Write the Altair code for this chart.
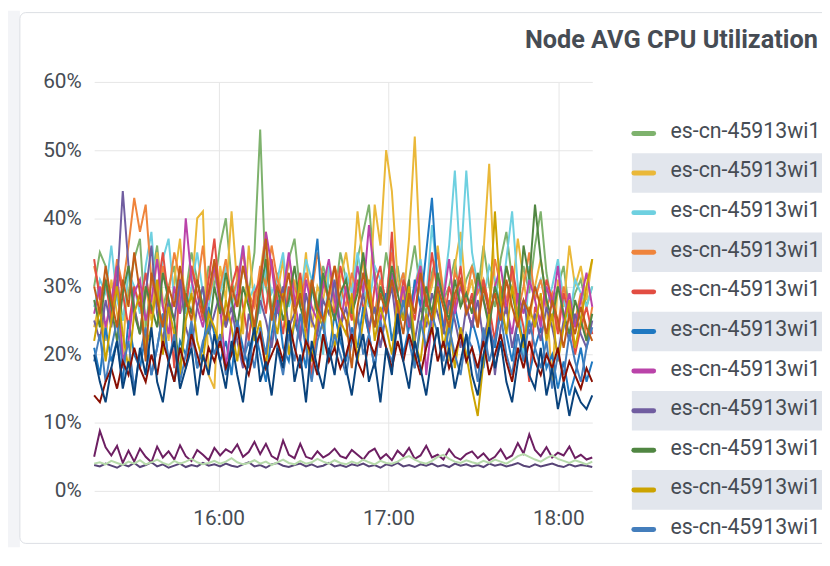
import altair as alt
import pandas as pd

TITLE = "Node AVG CPU Utilization"
LEGEND_LABEL = "es-cn-45913wi1"
COLORS = ["#7EB26D", "#EAB839", "#6ED0E0", "#EF843C", "#E24D42", "#1F78C1",
          "#BA43A9", "#705DA0", "#508642", "#CCA300", "#447EBC", "#C15C17",
          "#890F02", "#0A437C", "#6D1F62", "#584477", "#B7DBAB"]
SERIES = [f"node-{i + 1:02d}" for i in range(len(COLORS))]
LEGEND_ROWS = 11
Y_TICKS = [0, 10, 20, 30, 40, 50, 60]

s01 = [30, 35, 33, 27, 31, 25, 29, 34, 37, 24, 31, 36, 27, 30, 33, 26, 29, 35, 31, 27, 33, 30,
       36, 40, 31, 27, 33, 29, 35, 53, 30, 26, 32, 28, 34, 37, 29, 25, 31, 27, 33, 30, 28, 35,
       31, 26, 34, 38, 42, 32, 28, 35, 30, 33, 27, 31, 36, 29, 26, 32, 35, 28, 30, 34, 27, 31,
       33, 29, 36, 30, 27, 34, 38, 31, 28, 33, 29, 36, 41, 32, 27, 30, 33, 26, 29, 31, 27, 30]
s02 = [24, 28, 22, 31, 26, 20, 33, 27, 23, 30, 25, 35, 28, 22, 31, 37, 26, 29, 40, 41, 17, 15,
       33, 28, 41, 30, 23, 36, 27, 32, 38, 25, 29, 34, 22, 31, 27, 35, 24, 30, 28, 33, 26, 31,
       35, 29, 41, 33, 27, 42, 36, 50, 44, 31, 28, 37, 52, 33, 27, 30, 36, 29, 19, 33, 38, 28,
       31, 24, 35, 48, 30, 26, 33, 29, 37, 31, 25, 30, 34, 28, 16, 31, 27, 36, 30, 33, 28, 34]
s03 = [27, 31, 29, 36, 28, 25, 32, 30, 26, 33, 38, 27, 34, 37, 28, 31, 26, 30, 35, 29, 27, 32,
       29, 33, 27, 31, 36, 28, 30, 26, 33, 29, 31, 35, 27, 30, 28, 34, 31, 26, 20, 33, 30, 27,
       32, 29, 35, 30, 27, 33, 31, 28, 36, 29, 32, 27, 30, 34, 28, 39, 31, 29, 36, 47, 33, 47,
       35, 30, 28, 33, 31, 27, 34, 41, 30, 19, 33, 29, 31, 27, 30, 34, 28, 25, 31, 29, 27, 30]
s04 = [33, 29, 31, 27, 34, 30, 36, 43, 38, 42, 31, 28, 33, 29, 35, 31, 27, 33, 30, 36, 28, 32,
       30, 34, 28, 31, 35, 29, 27, 33, 30, 36, 31, 28, 34, 30, 27, 32, 29, 35, 31, 28, 33, 30,
       27, 32, 29, 34, 30, 26, 31, 28, 35, 29, 32, 27, 30, 33, 28, 31, 35, 29, 26, 32, 30, 28,
       33, 29, 31, 27, 34, 30, 28, 32, 26, 30, 35, 28, 31, 27, 29, 24, 30, 27, 25, 29, 22, 27]
s05 = [34, 28, 31, 25, 33, 29, 24, 30, 27, 32, 26, 29, 35, 28, 18, 31, 27, 33, 29, 25, 31, 37,
       28, 24, 30, 33, 27, 22, 29, 31, 26, 34, 28, 23, 30, 27, 32, 25, 17, 24, 31, 28, 26, 33,
       29, 25, 31, 27, 23, 30, 33, 26, 38, 24, 31, 28, 25, 32, 27, 35, 29, 24, 30, 27, 33, 26,
       29, 24, 31, 27, 22, 30, 26, 33, 28, 24, 16, 27, 25, 31, 28, 23, 29, 26, 20, 24, 27, 23]
s06 = [21, 17, 24, 19, 22, 16, 25, 20, 18, 23, 17, 21, 26, 19, 16, 22, 20, 24, 18, 21, 27, 23,
       19, 22, 17, 25, 21, 18, 24, 20, 16, 23, 28, 21, 19, 25, 22, 18, 30, 37, 24, 20, 26, 22,
       19, 24, 21, 27, 23, 18, 25, 29, 22, 26, 20, 24, 31, 27, 35, 43, 30, 24, 21, 27, 23, 19,
       25, 22, 18, 24, 21, 27, 23, 19, 25, 22, 17, 21, 24, 18, 20, 15, 19, 14, 17, 21, 16, 19]
s07 = [26, 30, 24, 28, 33, 19, 22, 29, 31, 25, 28, 34, 27, 23, 30, 26, 40, 31, 27, 24, 29, 33,
       27, 18, 25, 29, 36, 28, 24, 30, 38, 33, 26, 29, 35, 28, 23, 31, 27, 25, 30, 34, 28, 24,
       30, 27, 33, 29, 39, 31, 25, 28, 32, 26, 30, 24, 29, 33, 17, 25, 31, 28, 34, 26, 30, 27,
       24, 31, 28, 25, 30, 33, 27, 23, 29, 26, 31, 28, 24, 30, 27, 33, 25, 29, 24, 28, 32, 27]
s08 = [25, 22, 28, 24, 30, 44, 33, 27, 23, 29, 36, 26, 22, 28, 25, 31, 24, 21, 27, 30, 23, 26,
       29, 24, 27, 22, 18, 26, 23, 28, 25, 21, 27, 30, 24, 26, 22, 29, 25, 23, 28, 26, 31, 24,
       27, 22, 25, 29, 24, 27, 21, 26, 30, 23, 28, 25, 22, 27, 24, 29, 26, 23, 28, 25, 21, 27,
       24, 28, 22, 26, 17, 24, 27, 21, 25, 28, 23, 26, 22, 27, 24, 20, 25, 22, 26, 23, 21, 25]
s09 = [28, 24, 31, 27, 22, 29, 33, 26, 23, 30, 27, 24, 32, 28, 25, 17, 29, 26, 31, 27, 23, 30,
       26, 32, 28, 24, 30, 27, 23, 29, 34, 26, 30, 25, 28, 33, 27, 24, 30, 26, 32, 28, 25, 29,
       31, 26, 29, 35, 28, 24, 30, 27, 33, 29, 25, 31, 18, 24, 30, 26, 32, 28, 25, 31, 27, 29,
       26, 32, 28, 24, 30, 27, 33, 29, 25, 36, 31, 42, 34, 28, 25, 30, 26, 23, 28, 25, 22, 26]
s10 = [22, 27, 19, 25, 30, 23, 18, 26, 29, 21, 24, 31, 20, 27, 23, 17, 25, 29, 22, 19, 26, 24,
       21, 28, 24, 19, 26, 30, 22, 25, 18, 27, 23, 29, 20, 25, 31, 22, 19, 26, 24, 28, 21, 25,
       23, 29, 19, 25, 31, 22, 27, 24, 20, 28, 25, 30, 22, 19, 26, 23, 29, 21, 25, 18, 24, 20,
       15, 11, 19, 26, 41, 28, 23, 30, 25, 21, 27, 24, 29, 22, 26, 19, 24, 28, 21, 25, 30, 34]
s11 = [19, 23, 16, 21, 25, 18, 22, 15, 20, 24, 17, 21, 26, 19, 23, 16, 20, 25, 18, 22, 24, 20,
       23, 17, 21, 25, 19, 22, 18, 24, 20, 27, 21, 17, 23, 19, 26, 21, 16, 22, 25, 19, 23, 20,
       17, 22, 26, 20, 23, 18, 25, 21, 19, 24, 28, 22, 18, 25, 21, 26, 23, 19, 24, 20, 17, 23,
       21, 16, 24, 19, 22, 26, 20, 17, 23, 19, 25, 21, 18, 22, 15, 20, 17, 23, 19, 16, 21, 24]
s12 = [30, 26, 33, 28, 24, 31, 27, 35, 29, 19, 32, 28, 24, 30, 27, 33, 28, 25, 31, 26, 29, 34,
       28, 25, 30, 27, 33, 29, 24, 31, 37, 25, 30, 28, 32, 26, 29, 24, 31, 27, 25, 29, 33, 27,
       25, 18, 27, 32, 28, 24, 29, 26, 31, 27, 23, 29, 26, 32, 28, 25, 30, 27, 24, 29, 31, 26,
       28, 24, 30, 26, 29, 25, 31, 27, 24, 28, 26, 30, 27, 23, 28, 25, 21, 26, 23, 27, 24, 22]
s13 = [14, 13, 16, 18, 15, 19, 17, 21, 18, 16, 20, 17, 22, 19, 16, 21, 18, 23, 20, 17, 21, 19,
       22, 18, 20, 24, 19, 17, 21, 23, 18, 20, 22, 19, 25, 21, 18, 22, 20, 17, 23, 19, 21, 18,
       20, 23, 19, 17, 22, 20, 24, 21, 18, 22, 19, 23, 20, 17, 21, 24, 19, 22, 18, 20, 23, 19,
       21, 18, 22, 17, 20, 23, 19, 16, 21, 18, 22, 19, 17, 20, 18, 21, 16, 19, 17, 15, 18, 16]
s14 = [20, 16, 13, 18, 22, 15, 19, 14, 21, 17, 24, 16, 13, 19, 22, 15, 18, 21, 14, 20, 17, 23,
       19, 15, 22, 17, 13, 20, 24, 16, 19, 14, 21, 18, 25, 16, 20, 13, 22, 18, 15, 21, 17, 24,
       18, 14, 20, 23, 16, 19, 13, 21, 17, 26, 19, 15, 22, 18, 14, 20, 24, 17, 21, 15, 19, 23,
       17, 14, 20, 24, 18, 22, 16, 13, 19, 23, 17, 15, 21, 14, 18, 12, 16, 11, 15, 13, 12, 14]
s15 = [5.0, 8.8, 6.4, 5.2, 6.6, 4.1, 5.9, 4.3, 6.2, 5.0, 4.2, 6.5, 4.9, 5.8, 4.6, 6.7, 5.1, 4.4, 6.0, 5.3, 4.5, 6.3,
       5.2, 6.1, 5.6, 6.8, 5.0, 5.7, 7.2, 5.4, 6.9, 5.1, 4.6, 7.4, 5.3, 4.8, 6.9, 5.0, 4.7, 5.8, 4.9, 5.4, 6.2, 5.1,
       4.8, 6.0, 5.3, 4.6, 5.7, 6.2, 4.7, 5.4, 4.5, 5.9, 5.1, 6.3, 4.7, 5.2, 6.6, 4.9, 5.3, 4.6, 6.1, 5.0, 4.6, 5.4,
       5.8, 4.8, 5.5, 4.5, 5.0, 6.1, 4.7, 5.2, 7.0, 5.5, 8.3, 6.0, 5.1, 6.4, 4.9, 5.6, 5.2, 6.5, 4.8, 5.3, 4.6, 4.9]
s16 = [3.8, 3.6, 4.0, 3.7, 3.4, 3.9, 3.6, 4.1, 3.5, 3.8, 4.2, 3.6, 3.9, 3.4, 3.7, 4.0, 3.5, 3.8, 3.6, 4.1, 3.7, 3.9,
       3.6, 4.0, 3.7, 3.5, 3.9, 4.2, 3.6, 3.8, 3.4, 3.9, 4.1, 3.7, 3.5, 3.8, 4.0, 3.6, 3.9, 3.5, 3.7, 4.1, 3.6, 3.8,
       3.5, 3.9, 3.7, 4.0, 3.6, 3.8, 3.4, 3.9, 3.7, 4.1, 3.6, 3.8, 3.5, 3.9, 3.7, 4.0, 3.6, 3.8, 3.5, 4.0, 3.7, 3.9,
       3.6, 3.8, 3.5, 4.0, 3.7, 3.9, 3.6, 3.8, 4.1, 3.7, 3.5, 3.9, 3.6, 3.8, 4.0, 3.7, 3.5, 3.9, 3.6, 3.8, 3.7, 3.5]
s17 = [4.0, 4.2, 3.9, 4.4, 4.1, 3.8, 4.3, 4.0, 4.5, 3.9, 4.2, 4.6, 4.1, 3.8, 4.4, 4.0, 4.3, 4.7, 4.2, 3.9, 4.1, 4.4,
       4.0, 4.3, 4.8, 4.2, 3.9, 4.1, 4.5, 4.0, 4.3, 3.8, 4.2, 4.6, 4.1, 3.9, 4.4, 4.0, 4.2, 4.7, 4.3, 4.0, 4.5, 4.1,
       3.9, 4.3, 4.0, 4.6, 4.2, 3.9, 4.4, 4.1, 4.0, 4.3, 4.8, 5.1, 4.6, 4.2, 4.0, 4.4, 5.0, 5.3, 4.7, 4.3, 4.1, 4.5,
       4.2, 4.0, 4.4, 4.1, 4.6, 4.3, 4.0, 4.5, 5.1, 5.4, 5.0, 4.6, 4.3, 4.8, 5.2, 4.7, 4.4, 4.1, 4.5, 4.2, 3.9, 4.3]

VALUES = [s01, s02, s03, s04, s05, s06, s07, s08, s09, s10, s11, s12, s13, s14, s15, s16, s17]

# regular sampling between the visible start and end of the time range
times = pd.date_range("2024-05-20 15:16:00", "2024-05-20 18:12:00", periods=88)

rows = []
for sid, vals in zip(SERIES, VALUES):
    for t, v in zip(times, vals):
        rows.append({"time": t, "series": sid, "value": v})
df = pd.DataFrame(rows)

TEXT_COLOR = "#464c54"
FONT = "Roboto"

color_scale = alt.Scale(domain=SERIES, range=COLORS)


def dt(h, m):
    return alt.DateTime(year=2024, month=5, date=20, hours=h, minutes=m)


lines = alt.Chart(df).mark_line(strokeWidth=2).encode(
    x=alt.X("time:T",
            scale=alt.Scale(domain=[dt(15, 16), dt(18, 12)], nice=False),
            axis=alt.Axis(values=[dt(16, 0), dt(17, 0), dt(18, 0)], format="%H:%M",
                          title=None, labelPadding=17, grid=True)),
    y=alt.Y("value:Q",
            scale=alt.Scale(domain=[0, 60], nice=False),
            axis=alt.Axis(values=Y_TICKS, labelExpr="datum.value + '%'",
                          title=None, labelPadding=13, grid=True)),
    color=alt.Color("series:N", scale=color_scale, legend=None),
)

# ---- decorations: page strip and panel outline ----
one = pd.DataFrame({"a": [0]})
page_strip = alt.Chart(one).mark_rect(color="#f3f4f7").encode(
    x=alt.value(-87), x2=alt.value(-75), y=alt.value(-72), y2=alt.value(470))
panel = alt.Chart(one).mark_rect(fillOpacity=0, stroke="#dcdfe4", strokeWidth=1,
                                 cornerRadius=6).encode(
    x=alt.value(-75), x2=alt.value(820), y=alt.value(-70), y2=alt.value(466))

title = alt.Chart(pd.DataFrame({"t": [TITLE]})).mark_text(
    align="left", baseline="alphabetic", font=FONT, fontSize=25.5, fontWeight="bold",
    color=TEXT_COLOR).encode(text="t:N", x=alt.value(435), y=alt.value(-34))

# ---- custom legend (Grafana style table with striped rows) ----
leg = pd.DataFrame({
    "k": list(range(LEGEND_ROWS)),
    "series": SERIES[:LEGEND_ROWS],
    "label": [LEGEND_LABEL] * LEGEND_ROWS,
})
leg["lo"] = leg["k"] - 0.5
leg["hi"] = leg["k"] + 0.5
leg_scale = alt.Scale(domain=[-1.3, 9.025], reverse=True, nice=False, zero=False)

bands = alt.Chart(leg[leg["k"] % 2 == 1]).mark_rect(color="#e2e6ed").encode(
    x=alt.value(543), x2=alt.value(800),
    y=alt.Y("lo:Q", scale=leg_scale, axis=None), y2="hi:Q")
swatches = alt.Chart(leg).mark_rule(strokeWidth=5, strokeCap="round").encode(
    x=alt.value(545), x2=alt.value(565),
    y=alt.Y("k:Q", scale=leg_scale, axis=None),
    color=alt.Color("series:N", scale=color_scale, legend=None))
labels = alt.Chart(leg).mark_text(align="left", baseline="middle", dy=-1.5, font=FONT,
                                  fontSize=21.5, color=TEXT_COLOR).encode(
    x=alt.value(582), y=alt.Y("k:Q", scale=leg_scale, axis=None), text="label:N")

chart = alt.layer(page_strip, panel, lines, title, bands, swatches, labels).resolve_scale(
    y="independent"
).properties(
    width=503, height=413,
    autosize=alt.AutoSizeParams(type="none"),
    padding={"left": 87, "top": 72, "right": 232, "bottom": 55},
    background="white",
).configure_axis(
    labelFont=FONT, labelFontSize=21, labelColor=TEXT_COLOR,
    domain=False, ticks=False, gridColor="#e6e6e6", gridWidth=1,
).configure_view(stroke=None)

chart.save("out.html", embed_options={"renderer": "svg", "actions": False})
